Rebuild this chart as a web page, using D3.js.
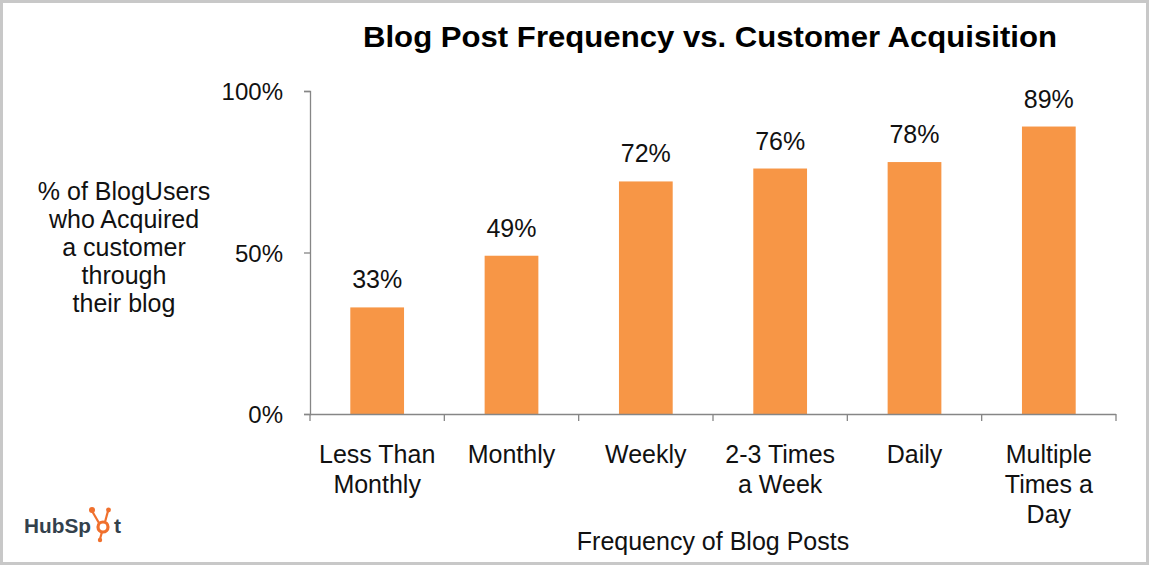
<!DOCTYPE html>
<html><head><meta charset="utf-8">
<script src="https://cdn.jsdelivr.net/npm/d3@7"></script>
<style>body{margin:0;background:#fff}svg{display:block}text{font-family:Arial,"Liberation Sans",sans-serif}</style>
</head><body><svg id="c" width="1152" height="567"></svg>
<script>
const categories = [["Less Than","Monthly"],["Monthly"],["Weekly"],["2-3 Times","a Week"],["Daily"],["Multiple","Times a","Day"]];
const values = [33, 49, 72, 76, 78, 89];
const yTicks = [0, 50, 100];
const title = "Blog Post Frequency vs. Customer Acquisition";
const yLabel = ["% of BlogUsers","who Acquired","a customer","through","their blog"];
const xTitle = "Frequency of Blog Posts";

const svg = d3.select("#c");
svg.append("rect").attr("x",1.5).attr("y",1.5).attr("width",1146).attr("height",562)
  .attr("fill","#fff").attr("stroke","#c8c8c8").attr("stroke-width",3);

const x = d3.scaleBand().domain(d3.range(categories.length)).range([310,1116]).paddingInner(0.6).paddingOuter(0.3);
const y = d3.scaleLinear().domain([0,100]).range([414,91]);

// bars
svg.selectAll("rect.bar").data(values).enter().append("rect").attr("class","bar")
  .attr("x",(d,i)=>x(i)).attr("width",x.bandwidth())
  .attr("y",d=>y(d)).attr("height",d=>y(0)-y(d)).attr("fill","#F79646");

// y axis
const yAxis = d3.axisLeft(y).tickValues(yTicks).tickSize(6).tickFormat(d=>d+"%");
const gy = svg.append("g").attr("transform","translate(310,0)").call(yAxis);
gy.select(".domain").attr("stroke","#868686").attr("stroke-width",1.3);
gy.selectAll(".tick line").attr("stroke","#868686").attr("stroke-width",1.3);
gy.selectAll(".tick text").attr("x",-27).attr("dy","0.36em").attr("font-size",24).attr("fill","#111")
  .style("font-family","Arial, 'Liberation Sans', sans-serif");

// x axis line with ticks at band boundaries
const step = x.step();
const bounds = d3.range(categories.length+1).map(i=>310 + i*step);
svg.append("line").attr("x1",310).attr("x2",1116).attr("y1",414.5).attr("y2",414.5).attr("stroke","#868686").attr("stroke-width",1.3);
svg.selectAll("line.xt").data(bounds).enter().append("line").attr("class","xt")
  .attr("x1",d=>d).attr("x2",d=>d).attr("y1",414).attr("y2",421).attr("stroke","#868686").attr("stroke-width",1.3);

// value labels
svg.selectAll("text.val").data(values).enter().append("text").attr("class","val")
  .attr("x",(d,i)=>x(i)+x.bandwidth()/2).attr("y",d=>y(d)-19)
  .attr("text-anchor","middle").attr("font-size",25).attr("fill","#111").text(d=>d+"%");

// category labels
const cg = svg.selectAll("text.cat").data(categories).enter().append("text").attr("class","cat")
  .attr("text-anchor","middle").attr("font-size",25).attr("fill","#111");
cg.each(function(lines,i){
  const t = d3.select(this);
  lines.forEach((l,j)=>t.append("tspan").attr("x",x(i)+x.bandwidth()/2).attr("y",463+j*30).text(l));
});

// title
svg.append("text").attr("x",710).attr("y",47).attr("text-anchor","middle")
  .attr("font-size",30).attr("font-weight","bold").attr("fill","#000")
  .attr("textLength",694).attr("lengthAdjust","spacingAndGlyphs").text(title);

// y label
const yl = svg.append("text").attr("text-anchor","middle").attr("font-size",25).attr("fill","#111");
yLabel.forEach((l,j)=>yl.append("tspan").attr("x",124).attr("y",200+j*28).text(l));

// x title
svg.append("text").attr("x",713).attr("y",550).attr("text-anchor","middle").attr("font-size",25).attr("fill","#111").text(xTitle);

// HubSpot logo
const logo = svg.append("g");
const tc = "#33414c", oc = "#f0702d";
logo.append("text").attr("x",24).attr("y",533).attr("font-size",21).attr("font-weight","bold").attr("fill",tc)
  .attr("textLength",67).attr("lengthAdjust","spacingAndGlyphs").text("HubSp");
const cx=103, cy=527;
logo.append("circle").attr("cx",cx).attr("cy",cy).attr("r",5).attr("fill","none").attr("stroke",oc).attr("stroke-width",3.2);
[[cx+2,cy-5,108,511],[cx-4,cy-4,92,511],[cx-1,cy+5,100,539]].forEach(s=>{
  logo.append("line").attr("x1",s[0]).attr("y1",s[1]).attr("x2",s[2]).attr("y2",s[3]).attr("stroke",oc).attr("stroke-width",2.2);
});
logo.append("circle").attr("cx",108.5).attr("cy",510).attr("r",2.4).attr("fill",oc);
logo.append("circle").attr("cx",92).attr("cy",510).attr("r",3).attr("fill",oc);
logo.append("circle").attr("cx",100).attr("cy",540).attr("r",2.2).attr("fill",oc);
logo.append("text").attr("x",114).attr("y",533).attr("font-size",21).attr("font-weight","bold").attr("fill",tc)
  .text("t");
</script></body></html>
